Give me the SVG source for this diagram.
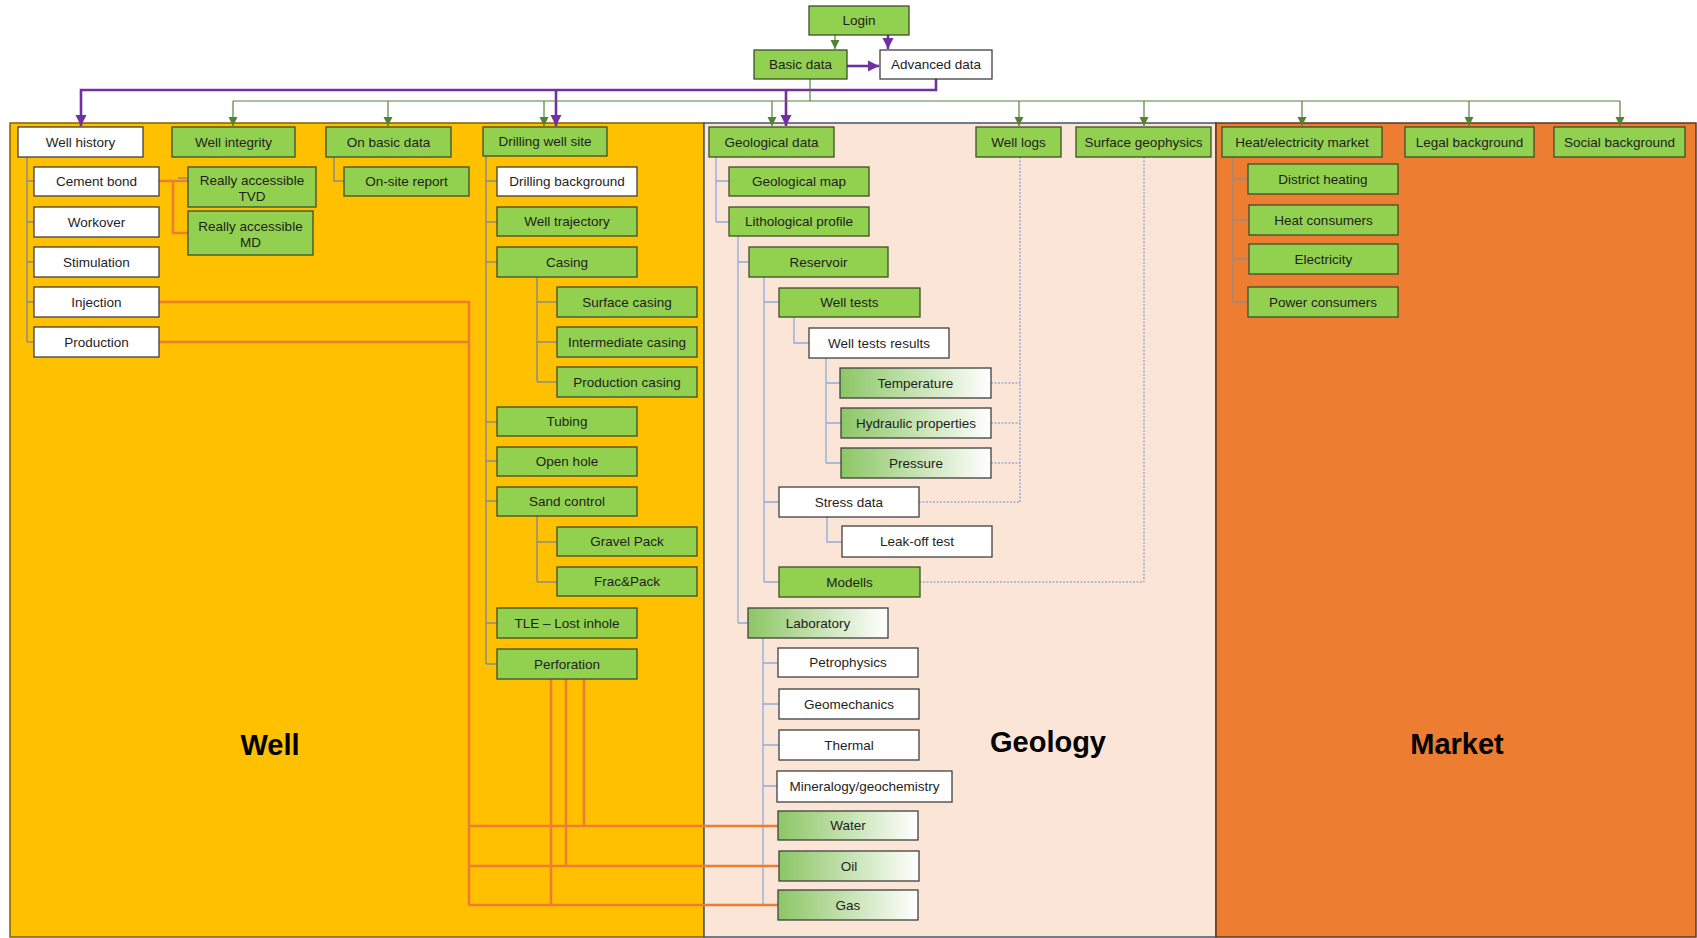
<svg xmlns="http://www.w3.org/2000/svg" width="1697" height="938" viewBox="0 0 1697 938">
<defs>
<linearGradient id="grad" x1="0" y1="0" x2="1" y2="0">
<stop offset="0" stop-color="#8cc665"/>
<stop offset="1" stop-color="#ffffff"/>
</linearGradient>
<marker id="ag" markerUnits="userSpaceOnUse" markerWidth="10" markerHeight="10" refX="9" refY="5" orient="auto">
<path d="M0,0.5 L9,5 L0,9.5 Z" fill="#548235"/>
</marker>
<marker id="ap" markerUnits="userSpaceOnUse" markerWidth="12" markerHeight="12" refX="11" refY="6" orient="auto">
<path d="M0,0.5 L11,6 L0,11.5 Z" fill="#7030a0"/>
</marker>
<style>
.g{fill:#92d050;stroke:#3d4f2a;stroke-width:1.3}
.w{fill:#ffffff;stroke:#404040;stroke-width:1.3}
.gr{fill:url(#grad);stroke:#404040;stroke-width:1.3}
text{font-family:"Liberation Sans",Arial,sans-serif;font-size:13.5px;fill:#1e1e1e;text-anchor:middle}
.big{font-size:29px;font-weight:bold;fill:#000}
.pur{fill:none;stroke:#7030a0;stroke-width:2.6}
.grn{fill:none;stroke:#548235;stroke-width:1.2}
.gry{fill:none;stroke:#8c8c8c;stroke-width:1.5}
.mk{fill:none;stroke:#9a8a86;stroke-width:1.5}
.blu{fill:none;stroke:#8faadc;stroke-width:1.3}
.dot{fill:none;stroke:#6f8fd0;stroke-width:1;stroke-dasharray:2 1.5}
.org{fill:none;stroke:#ed7d31;stroke-width:2.6}
</style>
</defs>

<g id="panels">
<rect id="panel-well" x="10" y="123" width="694" height="814" fill="#ffc000" stroke="#7f6000" stroke-width="1.5"/>
<rect id="panel-geology" x="704" y="123" width="512" height="814" fill="#fbe5d6" stroke="#44546a" stroke-width="1.5"/>
<rect id="panel-market" x="1216" y="123" width="480" height="814" fill="#ed7d31" stroke="#5a3a20" stroke-width="1.5"/>
<text class="big" x="270" y="755">Well</text>
<text class="big" x="1048" y="752">Geology</text>
<text class="big" x="1457" y="754">Market</text>
</g>

<g id="connectors">
<path class="pur" d="M888,35 V49" marker-end="url(#ap)"/>
<path class="pur" d="M847,66 H879" marker-end="url(#ap)"/>
<path class="pur" d="M936,79 V90 H81 V126" marker-end="url(#ap)"/>
<path class="pur" d="M556,90 V126" marker-end="url(#ap)"/>
<path class="pur" d="M786,90 V126" marker-end="url(#ap)"/>
<path class="grn" d="M835,35 V49" marker-end="url(#ag)"/>
<path class="grn" d="M810,79 V101"/>
<path class="grn" d="M233,101 H1620"/>
<path class="grn" d="M233,101 V126" marker-end="url(#ag)"/>
<path class="grn" d="M388,101 V126" marker-end="url(#ag)"/>
<path class="grn" d="M544,101 V126" marker-end="url(#ag)"/>
<path class="grn" d="M772,101 V126" marker-end="url(#ag)"/>
<path class="grn" d="M1019,101 V126" marker-end="url(#ag)"/>
<path class="grn" d="M1144,101 V126" marker-end="url(#ag)"/>
<path class="grn" d="M1302,101 V126" marker-end="url(#ag)"/>
<path class="grn" d="M1469,101 V126" marker-end="url(#ag)"/>
<path class="grn" d="M1620,101 V126" marker-end="url(#ag)"/>
<path class="gry" d="M27,157 V342 M27,181 H34 M27,222 H34 M27,262 H34 M27,302 H34 M27,342 H34"/>
<path class="gry" d="M178,178 H188"/>
<path class="gry" d="M334,157 V181 H344"/>
<path class="gry" d="M486,156 V664 M486,181 H497 M486,222 H497 M486,262 H497 M486,422 H497 M486,461 H497 M486,501 H497 M486,623 H497 M486,664 H497"/>
<path class="gry" d="M537,277 V382 M537,302 H557 M537,342 H557 M537,382 H557"/>
<path class="gry" d="M537,516 V582 M537,542 H557 M537,582 H557"/>
<path class="blu" d="M716,157 V222 M716,181 H729 M716,222 H729"/>
<path class="blu" d="M738,236 V623 M738,262 H749 M738,623 H748"/>
<path class="blu" d="M764,277 V582 M764,302 H779 M764,502 H779 M764,582 H779"/>
<path class="blu" d="M794,317 V343 H809"/>
<path class="blu" d="M826,358 V463 M826,383 H840 M826,423 H841 M826,463 H841"/>
<path class="blu" d="M827,517 V542 H842"/>
<path class="blu" d="M763,638 V905 M763,663 H778 M763,704 H779 M763,745 H779 M763,786 H777 M763,826 H778 M763,866 H779 M763,905 H778"/>
<path class="dot" d="M1020,157 V502 M991,383 H1020 M991,423 H1020 M991,463 H1020 M919,502 H1020"/>
<path class="dot" d="M1144,157 V582 H920"/>
<path class="mk" d="M1233,157 V302 M1233,179 H1248 M1233,220 H1249 M1233,259 H1249 M1233,302 H1248"/>
<path class="org" d="M159,181 H188 M173,181 V233 H188"/>
<path class="org" d="M159,302 H469 V905"/>
<path class="org" d="M159,342 H469"/>
<path class="org" d="M469,826 H778 M469,866 H779 M469,905 H778"/>
<path class="org" d="M584,679 V826 M566,679 V866 M551,679 V905"/>
</g>

<g id="login"><rect class="g" x="809" y="6" width="100" height="29"/><text x="859" y="25">Login</text></g>
<g id="basic-data"><rect class="g" x="754" y="50" width="93" height="29"/><text x="800.5" y="69">Basic data</text></g>
<g id="advanced-data"><rect class="w" x="880" y="50" width="112" height="29"/><text x="936" y="69">Advanced data</text></g>

<g id="well-history"><rect class="w" x="18" y="127" width="125" height="30"/><text x="80.5" y="146.5">Well history</text></g>
<g id="well-integrity"><rect class="g" x="172" y="127" width="123" height="30"/><text x="233.5" y="146.5">Well integrity</text></g>
<g id="on-basic-data"><rect class="g" x="326" y="127" width="125" height="30"/><text x="388.5" y="146.5">On basic data</text></g>
<g id="drilling-well-site"><rect class="g" x="483" y="127" width="124" height="29"/><text x="545" y="146">Drilling well site</text></g>
<g id="cement-bond"><rect class="w" x="34" y="167" width="125" height="29"/><text x="96.5" y="186">Cement bond</text></g>
<g id="workover"><rect class="w" x="34" y="207" width="125" height="30"/><text x="96.5" y="226.5">Workover</text></g>
<g id="stimulation"><rect class="w" x="34" y="247" width="125" height="30"/><text x="96.5" y="266.5">Stimulation</text></g>
<g id="injection"><rect class="w" x="34" y="287" width="125" height="30"/><text x="96.5" y="306.5">Injection</text></g>
<g id="production"><rect class="w" x="34" y="327" width="125" height="30"/><text x="96.5" y="346.5">Production</text></g>
<g id="really-tvd"><rect class="g" x="188" y="167" width="128" height="40"/><text x="252" y="185">Really accessible</text><text x="252" y="201">TVD</text></g>
<g id="really-md"><rect class="g" x="188" y="211" width="125" height="44"/><text x="250.5" y="231">Really accessible</text><text x="250.5" y="247">MD</text></g>
<g id="on-site-report"><rect class="g" x="344" y="167" width="125" height="29"/><text x="406.5" y="186">On-site report</text></g>
<g id="drilling-background"><rect class="w" x="497" y="167" width="140" height="29"/><text x="567" y="186">Drilling background</text></g>
<g id="well-trajectory"><rect class="g" x="497" y="207" width="140" height="29"/><text x="567" y="226">Well trajectory</text></g>
<g id="casing"><rect class="g" x="497" y="247" width="140" height="30"/><text x="567" y="266.5">Casing</text></g>
<g id="surface-casing"><rect class="g" x="557" y="287" width="140" height="30"/><text x="627" y="306.5">Surface casing</text></g>
<g id="intermediate-casing"><rect class="g" x="557" y="327" width="140" height="30"/><text x="627" y="346.5">Intermediate casing</text></g>
<g id="production-casing"><rect class="g" x="557" y="367" width="140" height="30"/><text x="627" y="386.5">Production casing</text></g>
<g id="tubing"><rect class="g" x="497" y="407" width="140" height="29"/><text x="567" y="426">Tubing</text></g>
<g id="open-hole"><rect class="g" x="497" y="447" width="140" height="29"/><text x="567" y="466">Open hole</text></g>
<g id="sand-control"><rect class="g" x="497" y="487" width="140" height="29"/><text x="567" y="506">Sand control</text></g>
<g id="gravel-pack"><rect class="g" x="557" y="527" width="140" height="29"/><text x="627" y="546">Gravel Pack</text></g>
<g id="frac-pack"><rect class="g" x="557" y="567" width="140" height="29"/><text x="627" y="586">Frac&amp;Pack</text></g>
<g id="tle"><rect class="g" x="497" y="608" width="140" height="30"/><text x="567" y="627.5">TLE – Lost inhole</text></g>
<g id="perforation"><rect class="g" x="497" y="649" width="140" height="30"/><text x="567" y="668.5">Perforation</text></g>

<g id="geological-data"><rect class="g" x="709" y="127" width="125" height="30"/><text x="771.5" y="146.5">Geological data</text></g>
<g id="well-logs"><rect class="g" x="976" y="127" width="85" height="30"/><text x="1018.5" y="146.5">Well logs</text></g>
<g id="surface-geophysics"><rect class="g" x="1076" y="127" width="135" height="30"/><text x="1143.5" y="146.5">Surface geophysics</text></g>
<g id="geological-map"><rect class="g" x="729" y="167" width="140" height="29"/><text x="799" y="186">Geological map</text></g>
<g id="lithological-profile"><rect class="g" x="729" y="207" width="140" height="29"/><text x="799" y="226">Lithological profile</text></g>
<g id="reservoir"><rect class="g" x="749" y="247" width="139" height="30"/><text x="818.5" y="266.5">Reservoir</text></g>
<g id="well-tests"><rect class="g" x="779" y="288" width="141" height="29"/><text x="849.5" y="307">Well tests</text></g>
<g id="well-tests-results"><rect class="w" x="809" y="328" width="140" height="30"/><text x="879" y="347.5">Well tests results</text></g>
<g id="temperature"><rect class="gr" x="840" y="368" width="151" height="30"/><text x="915.5" y="387.5">Temperature</text></g>
<g id="hydraulic-properties"><rect class="gr" x="841" y="408" width="150" height="30"/><text x="916" y="427.5">Hydraulic properties</text></g>
<g id="pressure"><rect class="gr" x="841" y="448" width="150" height="30"/><text x="916" y="467.5">Pressure</text></g>
<g id="stress-data"><rect class="w" x="779" y="487" width="140" height="30"/><text x="849" y="506.5">Stress data</text></g>
<g id="leak-off-test"><rect class="w" x="842" y="526" width="150" height="31"/><text x="917" y="546">Leak-off test</text></g>
<g id="modells"><rect class="g" x="779" y="567" width="141" height="30"/><text x="849.5" y="586.5">Modells</text></g>
<g id="laboratory"><rect class="gr" x="748" y="608" width="140" height="30"/><text x="818" y="627.5">Laboratory</text></g>
<g id="petrophysics"><rect class="w" x="778" y="648" width="140" height="29"/><text x="848" y="667">Petrophysics</text></g>
<g id="geomechanics"><rect class="w" x="779" y="689" width="140" height="30"/><text x="849" y="708.5">Geomechanics</text></g>
<g id="thermal"><rect class="w" x="779" y="730" width="140" height="30"/><text x="849" y="749.5">Thermal</text></g>
<g id="mineralogy"><rect class="w" x="777" y="771" width="175" height="31"/><text x="864.5" y="791">Mineralogy/geochemistry</text></g>
<g id="water"><rect class="gr" x="778" y="811" width="140" height="29"/><text x="848" y="830">Water</text></g>
<g id="oil"><rect class="gr" x="779" y="851" width="140" height="30"/><text x="849" y="870.5">Oil</text></g>
<g id="gas"><rect class="gr" x="778" y="890" width="140" height="30"/><text x="848" y="909.5">Gas</text></g>

<g id="heat-electricity-market"><rect class="g" x="1222" y="127" width="160" height="30"/><text x="1302" y="146.5">Heat/electricity market</text></g>
<g id="legal-background"><rect class="g" x="1405" y="127" width="129" height="30"/><text x="1469.5" y="146.5">Legal background</text></g>
<g id="social-background"><rect class="g" x="1554" y="127" width="131" height="30"/><text x="1619.5" y="146.5">Social background</text></g>
<g id="district-heating"><rect class="g" x="1248" y="164" width="150" height="30"/><text x="1323" y="183.5">District heating</text></g>
<g id="heat-consumers"><rect class="g" x="1249" y="205" width="149" height="30"/><text x="1323.5" y="224.5">Heat consumers</text></g>
<g id="electricity"><rect class="g" x="1249" y="244" width="149" height="30"/><text x="1323.5" y="263.5">Electricity</text></g>
<g id="power-consumers"><rect class="g" x="1248" y="287" width="150" height="30"/><text x="1323" y="306.5">Power consumers</text></g>
</svg>
